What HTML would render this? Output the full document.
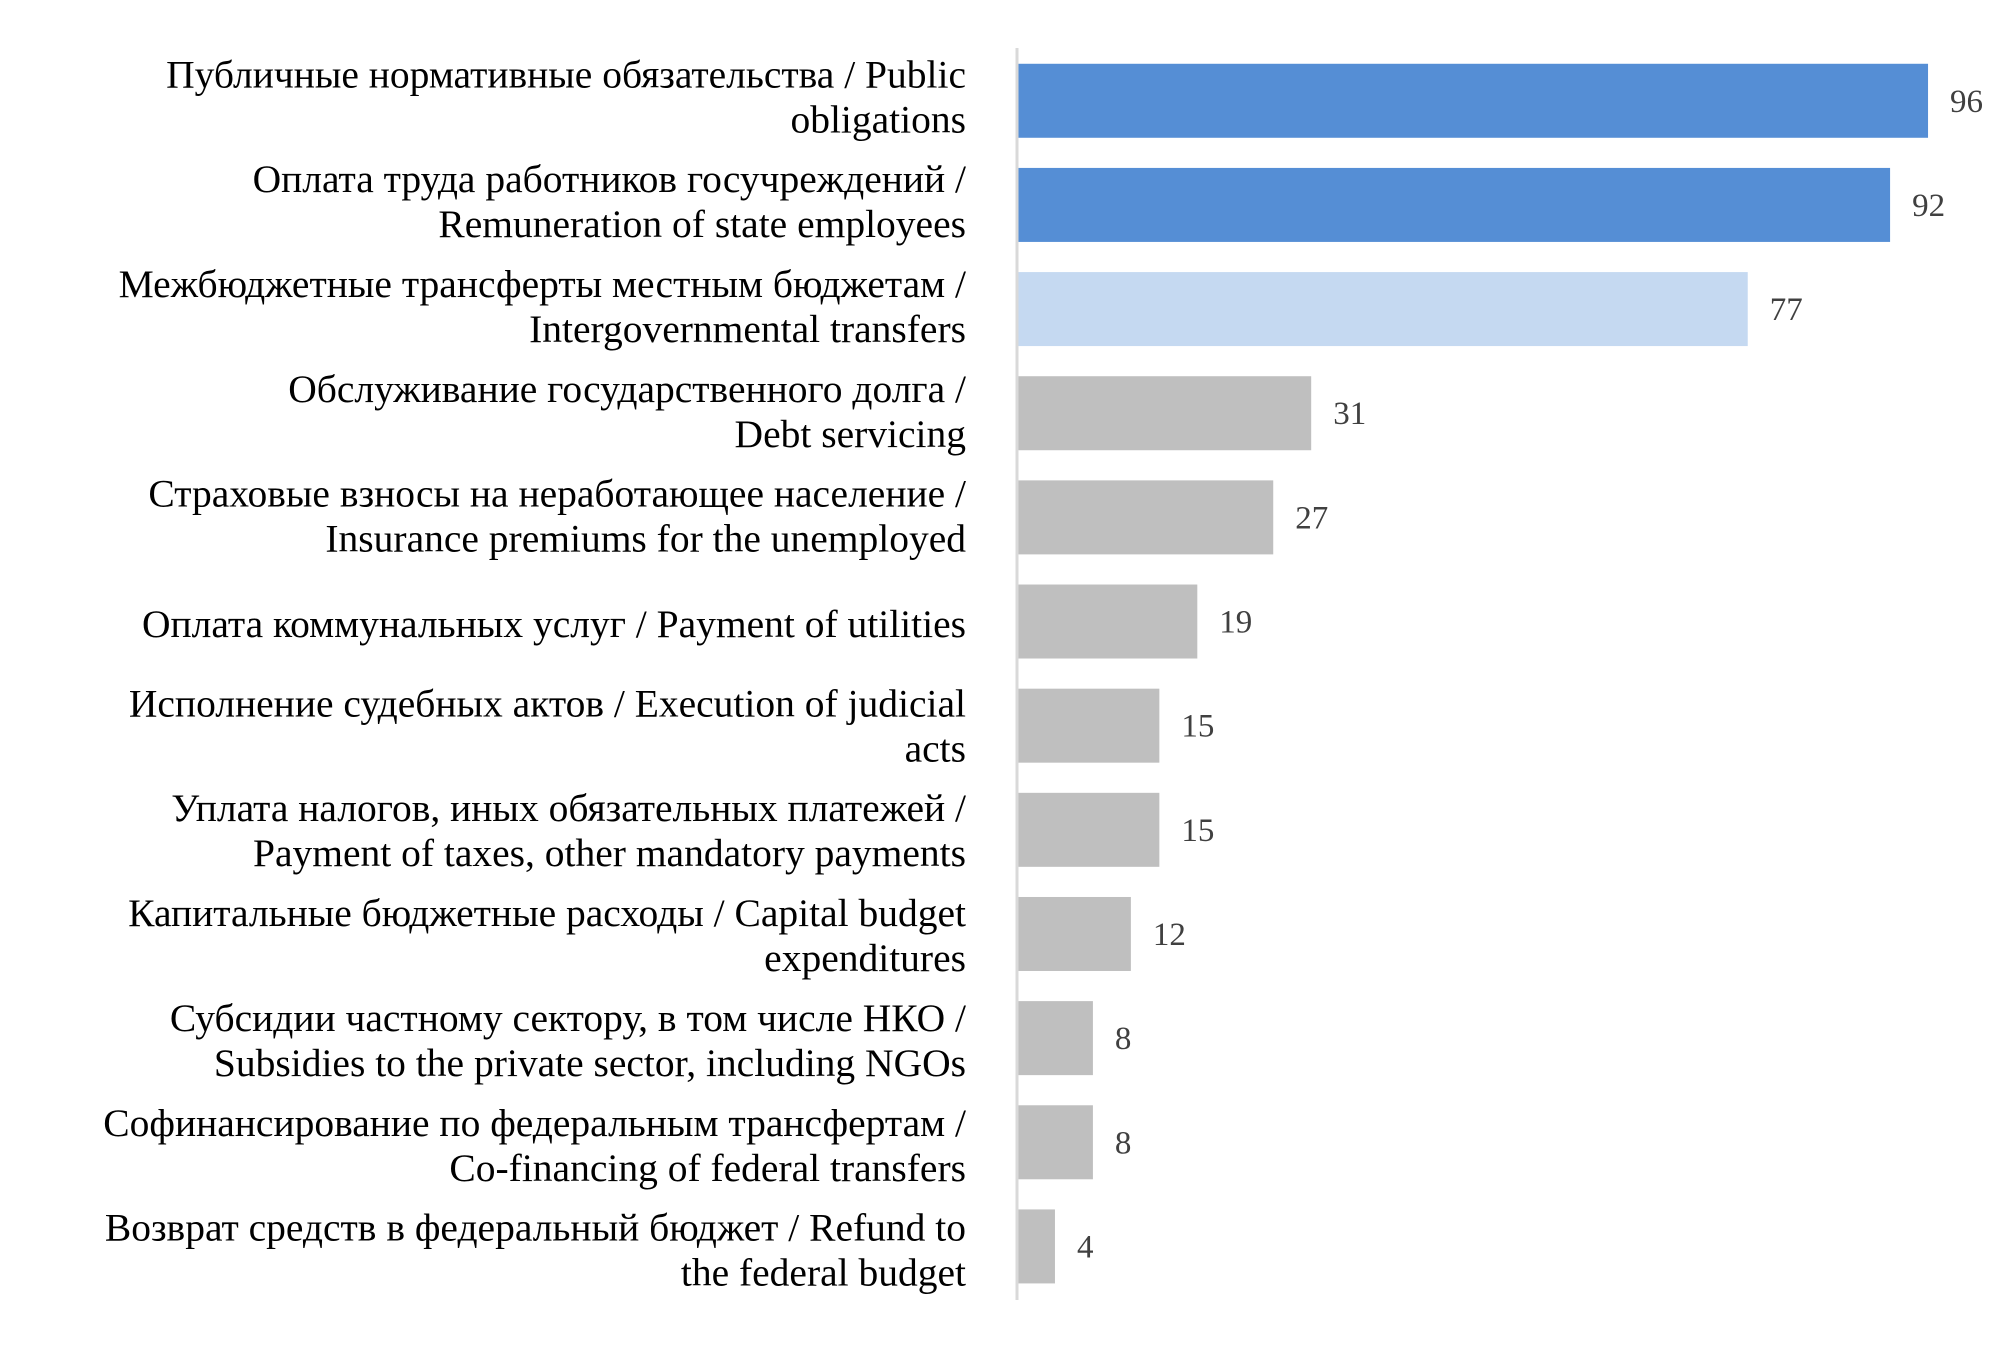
<!DOCTYPE html>
<html><head><meta charset="utf-8">
<style>
html,body{margin:0;padding:0;background:#fff;}
svg{display:block;}
text{font-family:"Liberation Serif","DejaVu Serif",serif;}
</style></head>
<body>
<svg id="chart" width="2008" height="1372" viewBox="0 0 2008 1372" xmlns="http://www.w3.org/2000/svg">
<rect width="2008" height="1372" fill="#fff"/>
<g id="bars"></g>
<g id="labels"></g>
<g id="values"></g>
<line x1="1017" y1="48" x2="1017" y2="1300" stroke="#d9d9d9" stroke-width="3"/>
</svg>
<script>
const categoryLines = [
 ["Публичные нормативные обязательства / Public","obligations"],
 ["Оплата труда работников госучреждений /","Remuneration of state employees"],
 ["Межбюджетные трансферты местным бюджетам /","Intergovernmental transfers"],
 ["Обслуживание государственного долга /","Debt servicing"],
 ["Страховые взносы на неработающее население /","Insurance premiums for the unemployed"],
 ["Оплата коммунальных услуг / Payment of utilities"],
 ["Исполнение судебных актов / Execution of judicial","acts"],
 ["Уплата налогов, иных обязательных платежей /","Payment of taxes, other mandatory payments"],
 ["Капитальные бюджетные расходы / Capital budget","expenditures"],
 ["Субсидии частному сектору, в том числе НКО /","Subsidies to the private sector, including NGOs"],
 ["Софинансирование по федеральным трансфертам /","Co-financing of federal transfers"],
 ["Возврат средств в федеральный бюджет / Refund  to","the federal budget"]
];
const values = [96, 92, 77, 31, 27, 19, 15, 15, 12, 8, 8, 4];
const groups = ["dark","dark","light","gray","gray","gray","gray","gray","gray","gray","gray","gray"];
const colorMap = {dark:"#558ed5", light:"#c5d9f1", gray:"#bfbfbf"};

const NS = "http://www.w3.org/2000/svg";
const x0 = 1017, pxPerUnit = 9.49;
const xScale = v => x0 + v * pxPerUnit;
const yTop = 48.7, band = 104.15, barH = 74;
const yCenter = i => yTop + band * i + band / 2;

const gB = document.getElementById('bars');
const gL = document.getElementById('labels');
const gV = document.getElementById('values');

values.forEach((v, i) => {
  const cy = yCenter(i);
  const r = document.createElementNS(NS, 'rect');
  r.setAttribute('x', x0);
  r.setAttribute('y', cy - barH / 2);
  r.setAttribute('width', xScale(v) - x0);
  r.setAttribute('height', barH);
  r.setAttribute('fill', colorMap[groups[i]]);
  
  
  gB.appendChild(r);

  const t = document.createElementNS(NS, 'text');
  t.setAttribute('x', xScale(v) + 22);
  t.setAttribute('y', cy + 11);
  t.setAttribute('font-size', '33');
  t.setAttribute('fill', '#404040');
  t.textContent = v;
  
  
  gV.appendChild(t);

  const lines = categoryLines[i];
  const n = lines.length;
  const ly = cy + 9 + i * 0.7 + (n === 1 ? 3 : 0);
  lines.forEach((ln, j) => {
    const lt = document.createElementNS(NS, 'text');
    lt.setAttribute('x', 966);
    lt.setAttribute('y', ly + (j - (n - 1) / 2) * 45);
    lt.setAttribute('text-anchor', 'end');
    lt.setAttribute('font-size', '39.5');
    lt.setAttribute('fill', '#000');
    lt.setAttribute('xml:space', 'preserve');
    lt.textContent = ln;
    
    
    gL.appendChild(lt);
  });
});
</script>
</body></html>
